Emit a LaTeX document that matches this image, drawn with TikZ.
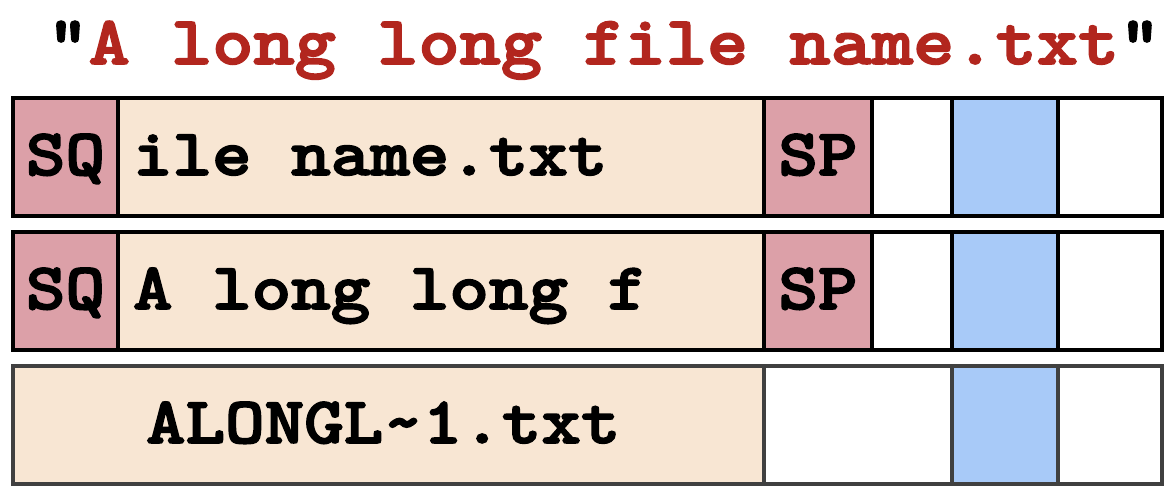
\documentclass[tikz,border=0pt]{standalone}
\usepackage{fontspec}
\newfontfamily\cellfont{lmmonolt10-bold.otf}[FakeStretch=1.14, FakeBold=2.5]
\definecolor{sqpink}{HTML}{DCA0A8}
\definecolor{namebeige}{HTML}{F8E6D3}
\definecolor{slotblue}{HTML}{A8CAF8}
\definecolor{titlered}{HTML}{B2261E}
\definecolor{rowgray}{HTML}{404040}
\begin{document}
\begin{tikzpicture}[font=\cellfont\fontsize{18.8}{20}\selectfont,
    cell/.style={rectangle, draw=black, line width=0.9pt, anchor=north west, inner sep=0pt, outer sep=0pt,
        minimum height=1.18cm, text height=0.5cm, text depth=0.14cm}]
    \useasboundingbox (0,0) rectangle (11.67,4.86);
    \node[inner sep=0pt, anchor=base, font=\cellfont\fontsize{19.6}{22}\selectfont] (title) at (6.04,4.22) {"\textcolor{titlered}{A long long file name.txt}"};
    % first entry
    \node[cell, fill=sqpink, minimum width=1.05cm] (sq1) at (0.13,3.88) {SQ};
    \node[cell, fill=namebeige, inner xsep=0.15cm] (name1) at (1.18,3.88) {\makebox[6.16cm][l]{ile name.txt}};
    \node[cell, fill=sqpink, minimum width=1.08cm] (sp1) at (7.64,3.88) {SP};
    \node[cell, fill=white, minimum width=0.80cm] (free1) at (8.72,3.88) {};
    \node[cell, fill=slotblue, minimum width=1.06cm] (slot1) at (9.52,3.88) {};
    \node[cell, fill=white, minimum width=1.04cm] (end1) at (10.58,3.88) {};
    % second entry
    \node[cell, fill=sqpink, minimum width=1.05cm] (sq2) at (0.13,2.54) {SQ};
    \node[cell, fill=namebeige, inner xsep=0.15cm] (name2) at (1.18,2.54) {\makebox[6.16cm][l]{A long long f}};
    \node[cell, fill=sqpink, minimum width=1.08cm] (sp2) at (7.64,2.54) {SP};
    \node[cell, fill=white, minimum width=0.80cm] (free2) at (8.72,2.54) {};
    \node[cell, fill=slotblue, minimum width=1.06cm] (slot2) at (9.52,2.54) {};
    \node[cell, fill=white, minimum width=1.04cm] (end2) at (10.58,2.54) {};
    % short entry
    \node[cell, draw=rowgray, fill=namebeige, inner xsep=1.33cm] (short) at (0.13,1.20) {\makebox[4.85cm][l]{ALONGL\textasciitilde1.txt}};
    \node[cell, draw=rowgray, fill=white, minimum width=1.88cm] (free3) at (7.64,1.20) {};
    \node[cell, draw=rowgray, fill=slotblue, minimum width=1.06cm] (slot3) at (9.52,1.20) {};
    \node[cell, draw=rowgray, fill=white, minimum width=1.04cm] (end3) at (10.58,1.20) {};
\end{tikzpicture}
\end{document}
